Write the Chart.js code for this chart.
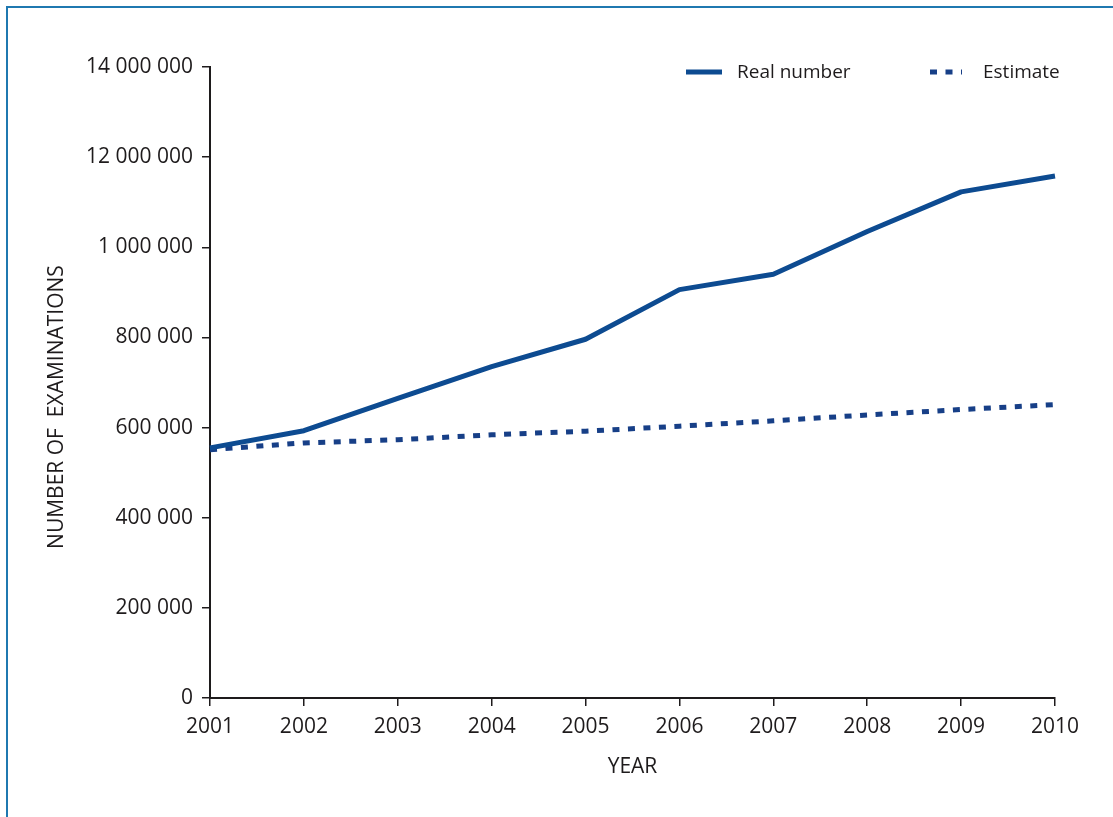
<!DOCTYPE html>
<html>
<head>
<meta charset="utf-8">
<script src="https://cdn.jsdelivr.net/npm/chart.js@4/dist/chart.umd.min.js"></script>
<style>
    body { margin: 0; background: #fff; }
    #wrap { position: relative; width: 1113px; height: 817px; overflow: hidden; }
    #frame { position: absolute; left: 6px; top: 6px; width: 1200px; height: 900px;
             border-left: 2px solid #1f78b0; border-top: 2px solid #1f78b0; }
    #graph { position: absolute; left: 0; top: 0; }
</style>
</head>
<body>
<div id="wrap">
    <div id="frame"></div>
    <canvas id="graph" width="1113" height="817"></canvas>
</div>
<script>
const years = ['2001', '2002', '2003', '2004', '2005', '2006', '2007', '2008', '2009', '2010']
const realNumber = [555000, 593000, 665000, 735000, 796000, 906000, 940000, 1035000, 1123000, 1158000]
const estimate = [551000, 566000, 573000, 584000, 592000, 603000, 615000, 628000, 640000, 651000]
// labels as printed in the figure (typos included)
const yTickLabels = ['0', '200 000', '400 000', '600 000', '800 000', '1 000 000', '12 000 000', '14 000 000']

const textColor = '#1e1b1c'
const font = 'Open Sans'

// legend drawn in the top right corner, over the plot
const cornerLegend = {
    id: 'cornerLegend',
    afterDraw(chart) {
        const ctx = chart.ctx
        const items = [
            {ds: chart.data.datasets[0], x1: 686, x2: 722, tx: 737},
            {ds: chart.data.datasets[1], x1: 930, x2: 962, tx: 983}
        ]
        const y = 72
        ctx.save()
        for (let it of items) {
            ctx.beginPath()
            ctx.strokeStyle = it.ds.borderColor
            ctx.lineWidth = it.ds.borderWidth
            ctx.setLineDash(it.ds.borderDash || [])
            ctx.moveTo(it.x1, y)
            ctx.lineTo(it.x2, y)
            ctx.stroke()
            ctx.setLineDash([])
            ctx.fillStyle = textColor
            ctx.font = '19px "' + font + '"'
            ctx.textBaseline = 'middle'
            ctx.fillText(it.ds.label, it.tx, y + 1)
        }
        ctx.restore()
    }
}

window.addEventListener('load', function() {
    const canvas_graph = document.getElementById('graph')
    const graph = new Chart(canvas_graph, {
        type: 'line',
        data: {
            labels: years,
            datasets: [{
                label: 'Real number',
                data: realNumber,
                borderColor: '#0d4b91',
                borderWidth: 5,
                borderJoinStyle: 'round',
                pointRadius: 0,
                tension: 0
            }, {
                label: 'Estimate',
                data: estimate,
                borderColor: '#173f87',
                borderWidth: 5,
                borderDash: [7, 8.5],
                pointRadius: 0,
                tension: 0
            }]
        },
        options: {
            responsive: false,
            animation: false,
            devicePixelRatio: 1,
            layout: {
                padding: {left: 0, right: 58, top: 67, bottom: 0}
            },
            plugins: {
                legend: {display: false},
                tooltip: {enabled: false}
            },
            scales: {
                x: {
                    offset: false,
                    afterFit: function(scale) { scale.height = 119 },
                    grid: {display: true, drawOnChartArea: false, drawTicks: true, tickLength: 8, color: textColor, lineWidth: 1.5},
                    border: {display: true, color: textColor, width: 2},
                    ticks: {color: textColor, font: {family: font, size: 21}, padding: 8, maxRotation: 0, autoSkip: false},
                    title: {display: true, text: 'YEAR', color: textColor, font: {family: font, size: 21}, padding: {top: 0, bottom: 37}}
                },
                y: {
                    min: 0,
                    max: 1400000,
                    afterFit: function(scale) { scale.width = 210 },
                    grid: {display: true, drawOnChartArea: false, drawTicks: true, tickLength: 8, color: textColor, lineWidth: 1.5},
                    border: {display: true, color: textColor, width: 2},
                    ticks: {
                        stepSize: 200000,
                        color: textColor,
                        font: {family: font, size: 21},
                        padding: 9,
                        callback: function(value) {
                            return yTickLabels[Math.round(value / 200000)]
                        }
                    },
                    title: {
                        display: true,
                        text: 'NUMBER OF  EXAMINATIONS\u00a0\u00a0\u00a0\u00a0\u00a0\u00a0\u00a0\u00a0\u00a0',
                        color: textColor,
                        font: {family: font, size: 21},
                        padding: {top: 44, bottom: 0}
                    }
                }
            }
        },
        plugins: [cornerLegend]
    })
})
</script>
</body>
</html>
